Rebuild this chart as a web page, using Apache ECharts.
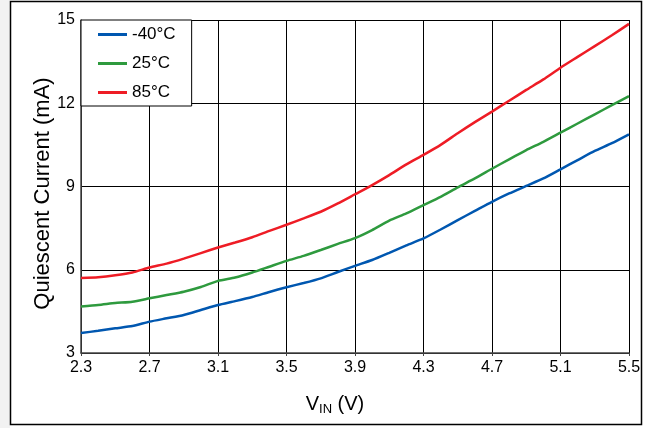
<!DOCTYPE html>
<html>
<head>
<meta charset="utf-8">
<script src="https://cdn.jsdelivr.net/npm/echarts@6/dist/echarts.min.js"></script>
<style>
html,body{margin:0;padding:0;background:#fff;}
#c{width:649px;height:428px;}
</style>
</head>
<body>
<div id="c"></div>
<script>
var vin = [2.3,2.4,2.5,2.6,2.7,2.8,2.9,3.0,3.1,3.2,3.3,3.4,3.5,3.6,3.7,3.8,3.9,4.0,4.1,4.2,4.3,4.4,4.5,4.6,4.7,4.8,4.9,5.0,5.1,5.2,5.3,5.4,5.5];
var iqM40 = [3.72,3.80,3.89,3.97,4.13,4.25,4.37,4.55,4.73,4.87,5.02,5.20,5.37,5.52,5.69,5.92,6.14,6.35,6.61,6.88,7.13,7.45,7.79,8.12,8.45,8.75,9.02,9.29,9.62,9.95,10.28,10.56,10.88];
var iq25 = [4.68,4.73,4.80,4.85,4.97,5.09,5.21,5.38,5.60,5.72,5.90,6.11,6.32,6.50,6.71,6.93,7.14,7.43,7.77,8.03,8.33,8.63,8.97,9.29,9.64,9.98,10.31,10.61,10.94,11.27,11.60,11.93,12.26];
var iq85 = [5.70,5.73,5.80,5.90,6.08,6.22,6.40,6.60,6.80,6.98,7.17,7.40,7.62,7.85,8.09,8.39,8.72,9.05,9.41,9.80,10.14,10.50,10.92,11.32,11.70,12.09,12.48,12.86,13.28,13.67,14.06,14.45,14.86];
var seriesNames = ['-40°C','25°C','85°C'];
var xTicks = [2.3,2.7,3.1,3.5,3.9,4.3,4.7,5.1,5.5];
var yTicks = [3,6,9,12,15];

function pairs(ys){ return vin.map(function(v,i){ return [v, ys[i]]; }); }
var colors = ['#0057b0','#2e9a3e','#ee1c25'];
var font = '"Liberation Sans", Arial, sans-serif';

var chart = echarts.init(document.getElementById('c'), null, {renderer:'canvas'});
chart.setOption({
  animation: false,
  backgroundColor: '#fff',
  graphic: [
    {type:'rect', shape:{x:0,y:0,width:10,height:428}, style:{fill:'#f2f2f2'}, silent:true, z:-10},
    {type:'rect', shape:{x:10.5,y:1.5,width:631,height:423}, style:{fill:'none', stroke:'#000', lineWidth:1.5}, silent:true, z:-9}
  ],
  grid: {left:81, right:20, top:20, bottom:75, containLabel:false},
  legend: {
    orient:'vertical', left:81, top:20,
    backgroundColor:'#fff', borderColor:'#000', borderWidth:1,
    padding:[6,16,5,17], itemWidth:29, itemHeight:3, itemGap:12,
    icon:'rect',
    textStyle:{fontFamily:font, fontSize:17, color:'#000'},
    data: seriesNames
  },
  xAxis: {
    type:'value', min:xTicks[0], max:xTicks[xTicks.length-1], interval:0.4,
    name:'{a|V}{b|IN}{a| (V)}', nameLocation:'middle', nameGap:40,
    nameTextStyle:{padding:[0,40,0,0], rich:{
      a:{fontFamily:font, fontSize:20, color:'#000'},
      b:{fontFamily:font, fontSize:13, color:'#000', verticalAlign:'bottom', padding:[10,0,0,0]}
    }},
    axisLine:{show:true, lineStyle:{color:'#444', width:1.5}},
    axisTick:{show:true, length:3, inside:false, lineStyle:{color:'#444'}},
    axisLabel:{fontFamily:font, fontSize:16, color:'#000', margin:7, formatter:function(v){return v.toFixed(1);}},
    splitLine:{show:true, lineStyle:{color:'#000', width:1}}
  },
  yAxis: {
    type:'value', min:yTicks[0], max:yTicks[yTicks.length-1], interval:3,
    name:'Quiescent Current (mA)', nameLocation:'middle', nameGap:27, nameRotate:90,
    nameMoveOverlap:false,
    nameTextStyle:{fontFamily:font, fontSize:22, color:'#000', padding:[0,14,0,0]},
    axisLine:{show:true, lineStyle:{color:'#444', width:1.5}},
    axisTick:{show:false},
    axisLabel:{fontFamily:font, fontSize:16, color:'#000', margin:6},
    splitLine:{show:true, lineStyle:{color:'#000', width:1}}
  },
  series: [
    {name:seriesNames[0], type:'line', data:pairs(iqM40), symbol:'none', smooth:0.2, lineStyle:{color:colors[0], width:2.5}, itemStyle:{color:colors[0]}},
    {name:seriesNames[1], type:'line', data:pairs(iq25), symbol:'none', smooth:0.2, lineStyle:{color:colors[1], width:2.5}, itemStyle:{color:colors[1]}},
    {name:seriesNames[2], type:'line', data:pairs(iq85), symbol:'none', smooth:0.2, lineStyle:{color:colors[2], width:2.5}, itemStyle:{color:colors[2]}}
  ]
});
</script>
</body>
</html>
